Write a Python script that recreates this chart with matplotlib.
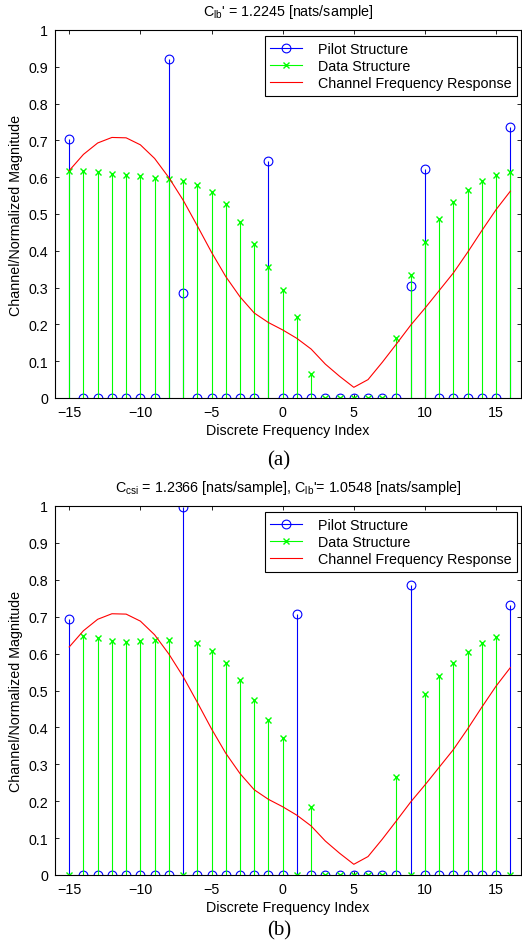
import matplotlib
matplotlib.use('Agg')
import matplotlib.pyplot as plt
from matplotlib.lines import Line2D
from matplotlib.legend_handler import HandlerLine2D
import numpy as np

plt.rcParams['font.family'] = ['Liberation Sans', 'DejaVu Sans']
plt.rcParams['mathtext.fontset'] = 'custom'
plt.rcParams['mathtext.rm'] = 'Liberation Sans'
plt.rcParams['mathtext.it'] = 'Liberation Sans:italic'

# subcarrier indices
idx = list(range(-15, 17))

# panel (a)
pilot_a = [0.705, 0, 0, 0, 0, 0, 0, 0.922, 0.285, 0, 0, 0, 0, 0, 0.645, 0,
           0, 0, 0, 0, 0, 0, 0, 0, 0.303, 0.621, 0, 0, 0, 0, 0, 0.737]
data_a = [0.617, 0.616, 0.613, 0.610, 0.606, 0.603, 0.599, 0.595, 0.590, 0.580,
          0.561, 0.527, 0.478, 0.418, 0.356, 0.294, 0.221, 0.064, 0, 0, 0, 0, 0,
          0.163, 0.333, 0.425, 0.486, 0.532, 0.565, 0.589, 0.606, 0.615]

# panel (b)
pilot_b = [0.693, 0, 0, 0, 0, 0, 0, 0, 0.997, 0, 0, 0, 0, 0, 0, 0,
           0.707, 0, 0, 0, 0, 0, 0, 0, 0.787, 0, 0, 0, 0, 0, 0, 0.732]
data_b = [0, 0.647, 0.641, 0.635, 0.632, 0.633, 0.636, 0.638, 0, 0.629,
          0.607, 0.574, 0.528, 0.473, 0.421, 0.371, 0, 0.184, 0, 0, 0, 0, 0,
          0.266, 0, 0.491, 0.539, 0.575, 0.604, 0.628, 0.644, 0]

# channel frequency response (same for both)
cfr = [0.618, 0.662, 0.693, 0.708, 0.707, 0.688, 0.651, 0.599, 0.538, 0.468,
       0.396, 0.330, 0.275, 0.231, 0.205, 0.185, 0.162, 0.133, 0.092, 0.059,
       0.029, 0.050, 0.097, 0.147, 0.198, 0.244, 0.292, 0.340, 0.396, 0.455,
       0.512, 0.562]

titles = [r"C$_{\mathrm{lb}}$' = 1.2245 [nats/sample]",
          r"C$_{\mathrm{csi}}$ = 1.2366 [nats/sample], C$_{\mathrm{lb}}$'= 1.0548 [nats/sample]"]
tags = ['(a)', '(b)']
fs = 10.3


# legend marker at the right end of the line, like matlab
class EndMarkerHandler(HandlerLine2D):
    def get_xdata(self, legend, xdescent, ydescent, width, height, fontsize):
        return [-xdescent, -xdescent + width], [-xdescent + width]


W, H = 522, 953
fig = plt.figure(figsize=(W / 100, H / 100), dpi=100)

# axes boxes in pixels: left, top, bottom
boxes = [(55, 31, 399), (55, 507, 876)]
right = 521
tag_y = [461, 931]

for k, (pilot, data) in enumerate([(pilot_a, data_a), (pilot_b, data_b)]):
    l, t, b = boxes[k]
    ax = fig.add_axes([l / W, (H - b) / H, (right - l) / W, (b - t) / H])

    m1, s1, b1 = ax.stem(idx, pilot, linefmt='b-', markerfmt='bo', basefmt='k-')
    m1.set_markerfacecolor('none')
    m1.set_markersize(6.3)
    m1.set_markeredgewidth(0.8)
    s1.set_linewidth(0.8)
    b1.set_visible(False)

    m2, s2, b2 = ax.stem(idx, data, linefmt='-', markerfmt='x', basefmt='k-')
    s2.set_color('#00ff00')
    s2.set_linewidth(0.8)
    m2.set_color('#00ff00')
    m2.set_markersize(5)
    m2.set_markeredgewidth(1.0)
    b2.set_visible(False)

    ax.plot(idx, cfr, color='red', lw=0.8)

    ax.set_xlim(-16, 16.75)
    ax.set_ylim(0, 1)
    ax.set_xticks([-15, -10, -5, 0, 5, 10, 15])
    ax.set_yticks(np.arange(0, 1.01, 0.1))
    ax.set_yticklabels(['0', '0.1', '0.2', '0.3', '0.4', '0.5', '0.6', '0.7', '0.8', '0.9', '1'])
    ax.tick_params(direction='in', top=True, right=True, length=3, width=0.6,
                   labelsize=fs, pad=5)
    for sp in ax.spines.values():
        sp.set_linewidth(0.8)
    ax.set_xlabel('Discrete Frequency Index', fontsize=fs, labelpad=3)
    ax.set_ylabel('Channel/Normalized Magnitude', fontsize=fs, labelpad=4)
    ax.set_title(titles[k], fontsize=fs, pad=11)

    h_pilot = Line2D([], [], color='b', marker='o', mfc='none', ms=6.3, mew=0.8, lw=0.8)
    h_data = Line2D([], [], color='#00ff00', marker='x', ms=5, mew=1.0, lw=0.8)
    h_cfr = Line2D([], [], color='red', lw=0.8)
    top_frac = (b - (t + 6)) / (b - t)
    leg = ax.legend([h_pilot, h_data, h_cfr],
                    ['Pilot Structure', 'Data Structure', 'Channel Frequency Response'],
                    loc='upper right', bbox_to_anchor=((517 - l) / (right - l), top_frac),
                    borderaxespad=0, fontsize=fs, fancybox=False, framealpha=1,
                    edgecolor='black', labelspacing=0.22, handlelength=2.2,
                    handletextpad=1.1, borderpad=0.4,
                    handler_map={Line2D: EndMarkerHandler()})
    leg.get_frame().set_linewidth(0.8)

    fig.text(279 / W, 1 - tag_y[k] / H, tags[k],
             fontsize=15, family='Liberation Serif', ha='center', va='center')

fig.savefig('out.png', dpi=100)
